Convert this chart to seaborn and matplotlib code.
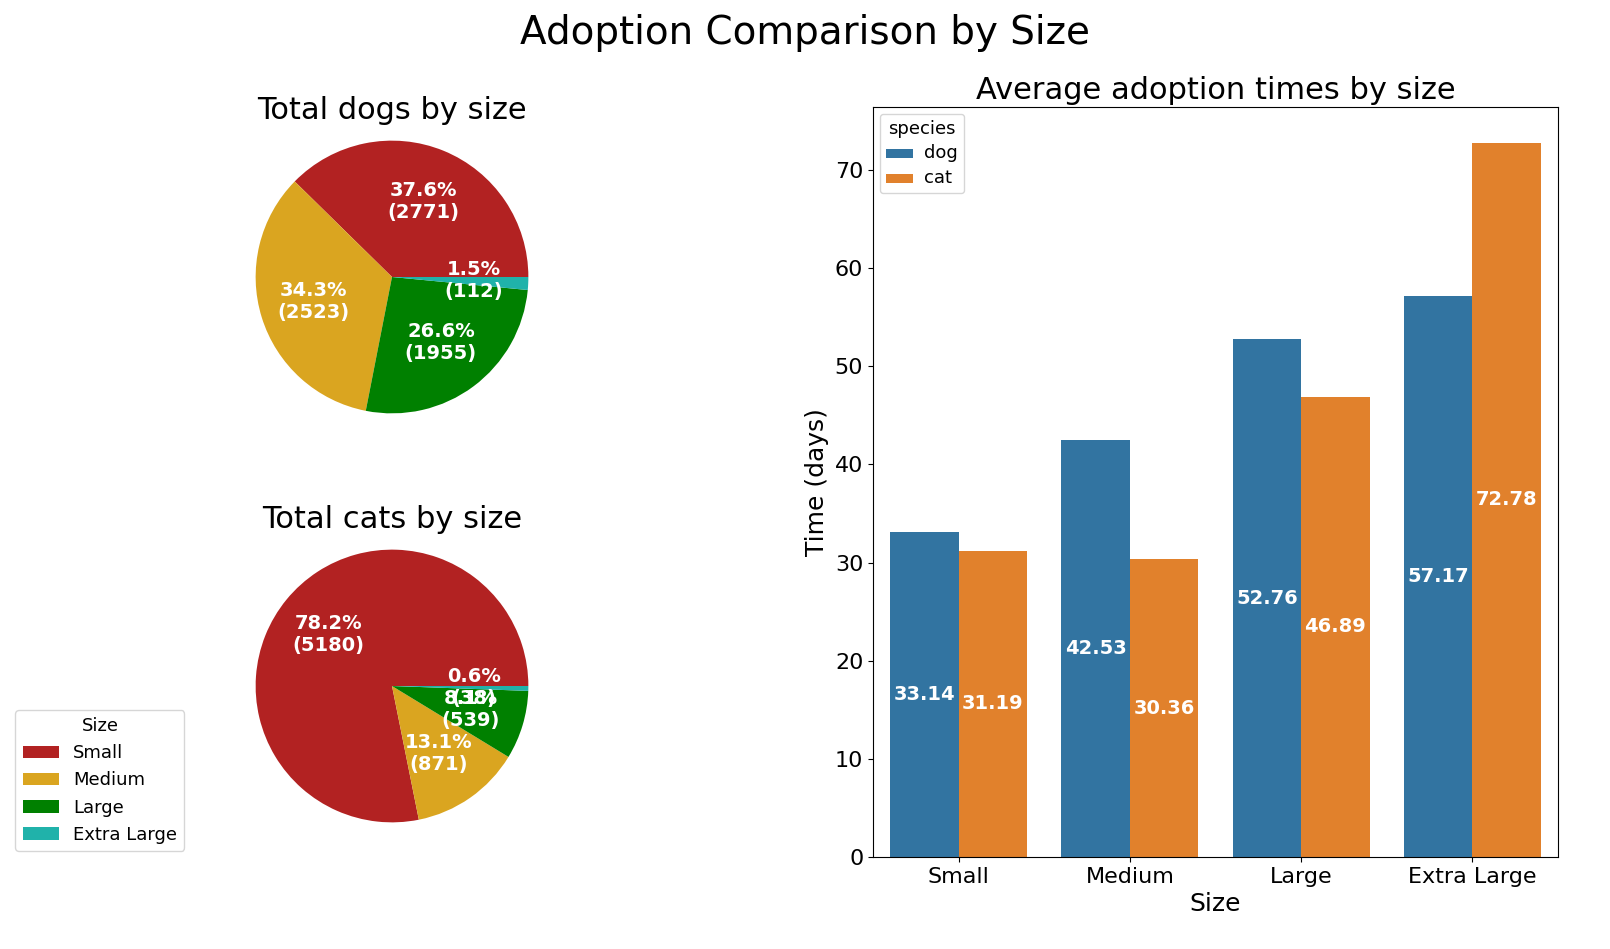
import matplotlib
matplotlib.use("Agg")
import matplotlib.pyplot as plt
import pandas as pd
import seaborn as sbn

sizes = ["Small", "Medium", "Large", "Extra Large"]
dog_counts = [2771, 2523, 1955, 112]
cat_counts = [5180, 871, 539, 38]
dog_times = [33.14, 42.53, 52.76, 57.17]
cat_times = [31.19, 30.36, 46.89, 72.78]
pie_colors = ["firebrick", "goldenrod", "green", "lightseagreen"]


def make_autopct(counts):
	total = sum(counts)
	def fmt(pct):
		return f"{pct:.1f}%\n({int(round(pct * total / 100))})"
	return fmt


def draw_pie(ax, counts, title):
	wedges, _, _ = ax.pie(counts, colors=pie_colors, autopct=make_autopct(counts),
		textprops=dict(color="white", fontweight="bold", fontsize=14))
	ax.set_xlim(-1.1, 1.1)
	ax.set_ylim(-1.1, 1.1)
	ax.set_title(title, fontsize=22)
	return wedges


def main():
	fig = plt.figure(figsize=(16.1, 9.49), dpi=100)
	W, H = 1610, 949

	ax_dog = fig.add_axes([(392 - 150) / W, (949 - 277 - 150) / H, 300 / W, 300 / H])
	wedges = draw_pie(ax_dog, dog_counts, "Total dogs by size")
	ax_cat = fig.add_axes([(392 - 150) / W, (949 - 686 - 150) / H, 300 / W, 300 / H])
	draw_pie(ax_cat, cat_counts, "Total cats by size")

	fig.legend(wedges, sizes, title="Size", loc="lower left", bbox_to_anchor=(0.004, 0.094),
		fontsize=13, title_fontsize=13)

	df = pd.DataFrame({
		"size": sizes * 2,
		"time": dog_times + cat_times,
		"species": ["dog"] * 4 + ["cat"] * 4,
	})
	ax_bar = fig.add_axes([873 / W, 92 / H, 685 / W, 750 / H])
	sbn.barplot(data=df, x="size", y="time", hue="species", ax=ax_bar,
		palette=["#1f77b4", "#ff7f0e"], saturation=0.75)
	for cont in ax_bar.containers:
		ax_bar.bar_label(cont, fmt="%.2f", label_type="center", color="white",
			fontweight="bold", fontsize=14)
	ax_bar.set_title("Average adoption times by size", fontsize=22)
	ax_bar.set_xlabel("Size", fontsize=18)
	ax_bar.set_ylabel("Time (days)", fontsize=18)
	ax_bar.tick_params(labelsize=16)
	leg = ax_bar.get_legend()
	leg.set_title("species", prop={"size": 13})
	for t in leg.get_texts():
		t.set_fontsize(13)

	fig.suptitle("Adoption Comparison by Size", fontsize=28, y=0.985)
	fig.savefig("out.png", dpi=100)


if __name__ == "__main__":
	main()
